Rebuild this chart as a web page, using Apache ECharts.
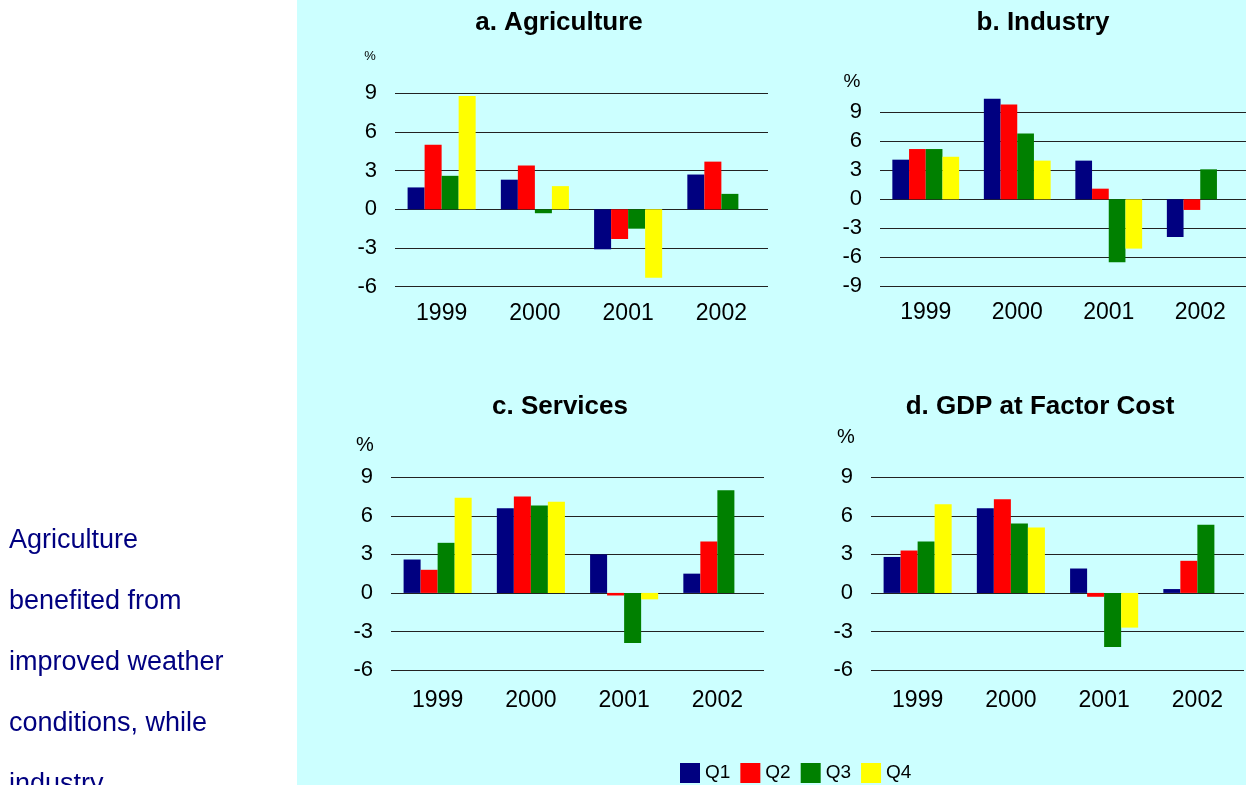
<!DOCTYPE html>
<html>
<head>
<meta charset="utf-8">
<title>Quarterly growth by sector</title>
<script src="https://cdn.jsdelivr.net/npm/echarts@6/dist/echarts.min.js"></script>
<style>
  html, body { margin: 0; padding: 0; background: #fff; }
  #chart { width: 1246px; height: 785px; }
</style>
</head>
<body>
<div id="chart"></div>
<script>
// categories
const years = ['1999', '2000', '2001', '2002']
const quarters = ['Q1', 'Q2', 'Q3', 'Q4']
const quarterColors = ['#000080', '#FF0000', '#008000', '#FFFF00']

// a. Agriculture
const agriQ1 = [1.7, 2.3, -3.1, 2.7]
const agriQ2 = [5.0, 3.4, -2.3, 3.7]
const agriQ3 = [2.6, -0.3, -1.5, 1.2]
const agriQ4 = [8.8, 1.8, -5.3, null]
// b. Industry
const indQ1 = [4.1, 10.4, 4.0, -3.9]
const indQ2 = [5.2, 9.8, 1.1, -1.1]
const indQ3 = [5.2, 6.8, -6.5, 3.1]
const indQ4 = [4.4, 4.0, -5.1, null]
// c. Services
const servQ1 = [2.6, 6.6, 3.0, 1.5]
const servQ2 = [1.8, 7.5, -0.2, 4.0]
const servQ3 = [3.9, 6.8, -3.9, 8.0]
const servQ4 = [7.4, 7.1, -0.5, null]
// d. GDP at factor cost
const gdpQ1 = [2.8, 6.6, 1.9, 0.3]
const gdpQ2 = [3.3, 7.3, -0.3, 2.5]
const gdpQ3 = [4.0, 5.4, -4.2, 5.3]
const gdpQ4 = [6.9, 5.1, -2.7, null]

const panels = [
  { title: 'a. Agriculture', data: [agriQ1, agriQ2, agriQ3, agriQ4], min: -6, max: 9 },
  { title: 'b. Industry', data: [indQ1, indQ2, indQ3, indQ4], min: -9, max: 12 },
  { title: 'c. Services', data: [servQ1, servQ2, servQ3, servQ4], min: -6, max: 9 },
  { title: 'd. GDP at Factor Cost', data: [gdpQ1, gdpQ2, gdpQ3, gdpQ4], min: -6, max: 9 }
]

// layout of the four plots (pixels)
const grids = [
  { left: 395, top: 93.3, width: 373, height: 193.4 },
  { left: 880, top: 83.3, width: 366, height: 203 },
  { left: 391, top: 477.3, width: 373, height: 192.7 },
  { left: 871, top: 477.3, width: 373, height: 192.7 }
]
const xMargins = [15, 15, 19, 19]
const titlePos = [[559, 10], [1043, 10], [560, 394], [1040, 394]]
const pctPos = [[370, 56, 13], [852, 82, 19], [365, 445, 20], [846, 437, 20]]

const font = '"Liberation Sans", Arial, sans-serif'
const chart = echarts.init(document.getElementById('chart'))

const xAxis = []
const yAxis = []
const series = []
panels.forEach((p, i) => {
  xAxis.push({
    type: 'category',
    gridIndex: i,
    data: years,
    axisLine: { show: false },
    axisTick: { show: false },
    axisLabel: { color: '#000', fontFamily: font, fontSize: 23, margin: xMargins[i] }
  })
  yAxis.push({
    type: 'value',
    gridIndex: i,
    min: p.min,
    max: p.max,
    interval: 3,
    axisLine: { show: false },
    axisTick: { show: false },
    axisLabel: { color: '#000', fontFamily: font, fontSize: 22, margin: 18, showMaxLabel: p.max !== 12 },
    splitLine: { show: true, showMaxLine: p.max !== 12, lineStyle: { color: '#222', width: 1 } }
  })
  p.data.forEach((vals, q) => {
    series.push({
      type: 'bar',
      name: quarters[q],
      xAxisIndex: i,
      yAxisIndex: i,
      data: vals,
      barGap: '0%',
      barCategoryGap: '27%',
      itemStyle: { color: quarterColors[q] }
    })
  })
})

const leftText = ['Agriculture', 'benefited from', 'improved weather', 'conditions, while', 'industry']

const graphic = [
  { type: 'rect', z: -1, silent: true, shape: { x: 297, y: 0, width: 949, height: 785 }, style: { fill: '#CCFFFF' } }
]
leftText.forEach((t, k) => {
  graphic.push({
    type: 'text', left: 9, top: 527 + k * 61,
    style: { text: t, fill: '#000080', font: '27px ' + font }
  })
})
pctPos.forEach(([x, y, s]) => {
  graphic.push({
    type: 'text', x: x, y: y,
    style: { text: '%', fill: '#000', font: s + 'px ' + font, align: 'center', verticalAlign: 'middle' }
  })
})

const option = {
  backgroundColor: '#fff',
  animation: false,
  title: panels.map((p, i) => ({
    text: p.title,
    left: titlePos[i][0],
    top: titlePos[i][1],
    textAlign: 'center',
    padding: 0,
    textStyle: { color: '#000', fontFamily: font, fontSize: 26, fontWeight: 'bold' }
  })),
  grid: grids,
  xAxis: xAxis,
  yAxis: yAxis,
  legend: {
    data: quarters,
    left: 680,
    top: 763,
    padding: 0,
    icon: 'rect',
    itemWidth: 20,
    itemHeight: 20,
    itemGap: 10,
    textStyle: { color: '#000', fontFamily: font, fontSize: 19 }
  },
  graphic: graphic,
  series: series
}
chart.setOption(option)
</script>
</body>
</html>
